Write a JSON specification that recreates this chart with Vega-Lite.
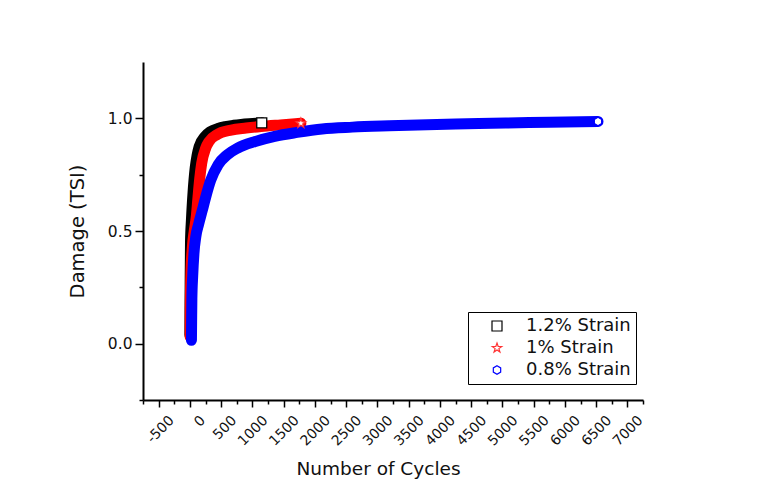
{
  "$schema": "https://vega.github.io/schema/vega-lite/v6.json",
  "width": 500,
  "height": 338,
  "autosize": {"type": "none"},
  "padding": {"left": 143, "top": 62, "right": 119, "bottom": 91},
  "background": "white",
  "config": {
    "view": {"stroke": null},
    "font": "DejaVu Sans",
    "axis": {
      "grid": false,
      "domainColor": "black",
      "domainWidth": 2,
      "tickColor": "black",
      "tickWidth": 1.5,
      "labelColor": "#111111",
      "titleColor": "#111111",
      "labelFont": "DejaVu Sans",
      "titleFont": "DejaVu Sans",
      "titleFontWeight": "normal",
      "labelOverlap": false
    },
    "axisX": {
      "labelAngle": -45,
      "labelFontSize": 14,
      "labelPadding": 6,
      "labelOffset": 8,
      "titleFontSize": 18.5,
      "titleX": 235,
      "titleY": 68,
      "titleBaseline": "middle"
    },
    "axisY": {
      "labelFontSize": 15.5,
      "labelPadding": 3,
      "titleFontSize": 19.5,
      "titleX": -66,
      "titleY": 169,
      "titleBaseline": "middle"
    },
    "legend": {
      "orient": "none",
      "legendX": 325,
      "legendY": 250,
      "strokeColor": "black",
      "fillColor": "white",
      "padding": 5,
      "symbolOffset": 15,
      "labelOffset": 20,
      "labelFont": "DejaVu Sans",
      "labelFontSize": 18,
      "labelColor": "#111111",
      "rowPadding": 4,
      "symbolSize": 100,
      "symbolStrokeWidth": 1.2
    }
  },
  "datasets": {
    "curves": [
      {"series": "1.2% Strain", "N": 0, "D": 0.04},
      {"series": "1.2% Strain", "N": 2, "D": 0.15},
      {"series": "1.2% Strain", "N": 5, "D": 0.3},
      {"series": "1.2% Strain", "N": 10, "D": 0.45},
      {"series": "1.2% Strain", "N": 25, "D": 0.55},
      {"series": "1.2% Strain", "N": 50, "D": 0.668},
      {"series": "1.2% Strain", "N": 85, "D": 0.78},
      {"series": "1.2% Strain", "N": 115, "D": 0.835},
      {"series": "1.2% Strain", "N": 149, "D": 0.875},
      {"series": "1.2% Strain", "N": 237, "D": 0.918},
      {"series": "1.2% Strain", "N": 325, "D": 0.94},
      {"series": "1.2% Strain", "N": 450, "D": 0.955},
      {"series": "1.2% Strain", "N": 565, "D": 0.963},
      {"series": "1.2% Strain", "N": 700, "D": 0.969},
      {"series": "1.2% Strain", "N": 821, "D": 0.973},
      {"series": "1.2% Strain", "N": 950, "D": 0.976},
      {"series": "1.2% Strain", "N": 1060, "D": 0.978},
      {"series": "1.2% Strain", "N": 1150, "D": 0.98},
      {"series": "1% Strain", "N": 5, "D": 0.03},
      {"series": "1% Strain", "N": 6, "D": 0.15},
      {"series": "1% Strain", "N": 15, "D": 0.3},
      {"series": "1% Strain", "N": 40, "D": 0.43},
      {"series": "1% Strain", "N": 70, "D": 0.5},
      {"series": "1% Strain", "N": 105, "D": 0.57},
      {"series": "1% Strain", "N": 130, "D": 0.65},
      {"series": "1% Strain", "N": 157, "D": 0.73},
      {"series": "1% Strain", "N": 189, "D": 0.8},
      {"series": "1% Strain", "N": 253, "D": 0.868},
      {"series": "1% Strain", "N": 309, "D": 0.898},
      {"series": "1% Strain", "N": 429, "D": 0.927},
      {"series": "1% Strain", "N": 661, "D": 0.948},
      {"series": "1% Strain", "N": 900, "D": 0.957},
      {"series": "1% Strain", "N": 1141, "D": 0.964},
      {"series": "1% Strain", "N": 1450, "D": 0.971},
      {"series": "1% Strain", "N": 1776, "D": 0.978},
      {"series": "0.8% Strain", "N": 25, "D": 0.015},
      {"series": "0.8% Strain", "N": 28, "D": 0.1},
      {"series": "0.8% Strain", "N": 32, "D": 0.2},
      {"series": "0.8% Strain", "N": 45, "D": 0.3},
      {"series": "0.8% Strain", "N": 65, "D": 0.4},
      {"series": "0.8% Strain", "N": 95, "D": 0.475},
      {"series": "0.8% Strain", "N": 140, "D": 0.53},
      {"series": "0.8% Strain", "N": 197, "D": 0.59},
      {"series": "0.8% Strain", "N": 253, "D": 0.65},
      {"series": "0.8% Strain", "N": 333, "D": 0.725},
      {"series": "0.8% Strain", "N": 453, "D": 0.795},
      {"series": "0.8% Strain", "N": 597, "D": 0.838},
      {"series": "0.8% Strain", "N": 765, "D": 0.868},
      {"series": "0.8% Strain", "N": 1045, "D": 0.897},
      {"series": "0.8% Strain", "N": 1357, "D": 0.92},
      {"series": "0.8% Strain", "N": 1717, "D": 0.9375},
      {"series": "0.8% Strain", "N": 2117, "D": 0.953},
      {"series": "0.8% Strain", "N": 2600, "D": 0.961},
      {"series": "0.8% Strain", "N": 3189, "D": 0.967},
      {"series": "0.8% Strain", "N": 4253, "D": 0.975},
      {"series": "0.8% Strain", "N": 5053, "D": 0.979},
      {"series": "0.8% Strain", "N": 5750, "D": 0.983},
      {"series": "0.8% Strain", "N": 6530, "D": 0.986}
    ]
  },
  "data": {"name": "curves"},
  "encoding": {
    "x": {
      "field": "N", "type": "quantitative",
      "scale": {"domain": [-750, 7250]},
      "axis": {
        "title": "Number of Cycles",
        "values": [-750, -500, -250, 0, 250, 500, 750, 1000, 1250, 1500, 1750, 2000, 2250, 2500, 2750, 3000, 3250, 3500, 3750, 4000, 4250, 4500, 4750, 5000, 5250, 5500, 5750, 6000, 6250, 6500, 6750, 7000, 7250],
        "labelExpr": "datum.value % 500 === 0 ? '' + datum.value : ''",
        "tickSize": {"condition": {"test": "datum.value % 500 === 0", "value": 7}, "value": 4}
      }
    },
    "y": {
      "field": "D", "type": "quantitative",
      "scale": {"domain": [-0.25, 1.25]},
      "axis": {
        "title": "Damage (TSI)",
        "values": [-0.25, 0, 0.25, 0.5, 0.75, 1],
        "labelExpr": "datum.value % 0.5 === 0 ? format(datum.value, '.1f') : ''",
        "tickSize": {"condition": {"test": "datum.value % 0.5 === 0", "value": 8}, "value": 4}
      }
    }
  },
  "layer": [
    {
      "transform": [{"filter": "datum.series === '1.2% Strain'"}],
      "mark": {"type": "line", "stroke": "black", "strokeWidth": 11, "strokeCap": "round", "strokeJoin": "round", "interpolate": "monotone"}
    },
    {
      "transform": [{"filter": "datum.series === '1% Strain'"}],
      "mark": {"type": "line", "stroke": "#ff0000", "strokeWidth": 11, "strokeCap": "round", "strokeJoin": "round", "interpolate": "monotone"}
    },
    {
      "transform": [{"filter": "datum.series === '0.8% Strain'"}],
      "mark": {"type": "line", "stroke": "#0000ff", "strokeWidth": 11, "strokeCap": "round", "strokeJoin": "round", "interpolate": "monotone"}
    },
    {
      "transform": [
        {"joinaggregate": [{"op": "max", "field": "N", "as": "maxN"}], "groupby": ["series"]},
        {"filter": "datum.N === datum.maxN"}
      ],
      "mark": {"type": "point", "filled": true, "fill": "white", "strokeWidth": 1.3, "size": 100, "opacity": 1},
      "encoding": {
        "stroke": {
          "field": "series", "type": "nominal", "title": null,
          "scale": {"domain": ["1.2% Strain", "1% Strain", "0.8% Strain"], "range": ["black", "#ff3333", "#0000ff"]}
        },
        "shape": {
          "field": "series", "type": "nominal", "title": null,
          "scale": {"domain": ["1.2% Strain", "1% Strain", "0.8% Strain"], "range": ["square", "M0,-1L0.235,-0.324L0.951,-0.309L0.38,0.124L0.588,0.809L0,0.4L-0.588,0.809L-0.38,0.124L-0.951,-0.309L-0.235,-0.324Z", "M0,-0.85L0.736,-0.425L0.736,0.425L0,0.85L-0.736,0.425L-0.736,-0.425Z"]}
        }
      }
    }
  ]
}
